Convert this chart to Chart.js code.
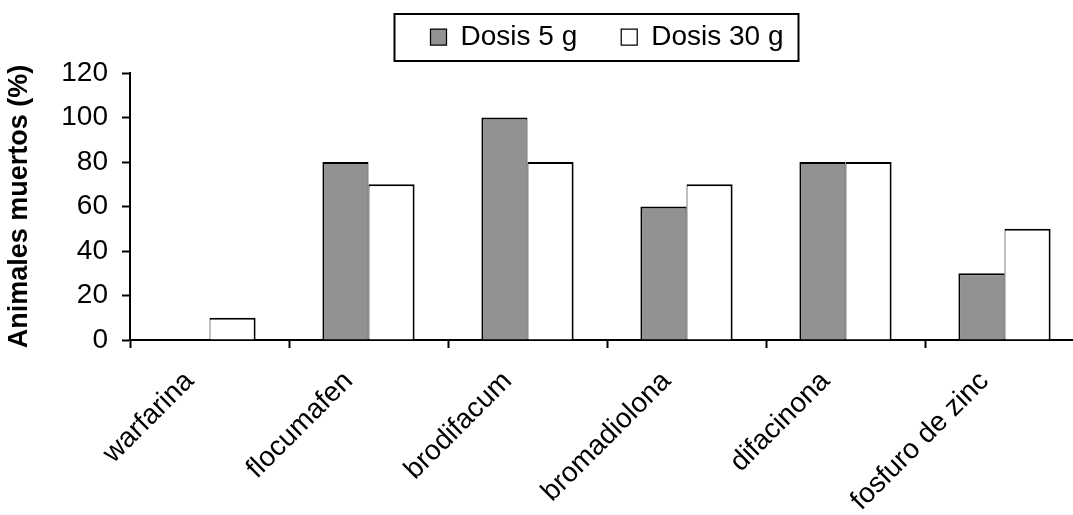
<!DOCTYPE html>
<html>
<head>
<meta charset="utf-8">
<script src="https://cdn.jsdelivr.net/npm/chart.js@4.4.0/dist/chart.umd.min.js"></script>
<style>
  body { margin: 0; background: #fff; overflow: hidden; }
</style>
</head>
<body>
<canvas id="myChart" width="1090" height="515"></canvas>
<script>
const labels = ['warfarina', 'flocumafen', 'brodifacum', 'bromadiolona', 'difacinona', 'fosfuro de zinc'];
const dose5 = [0, 80, 100, 60, 80, 30];
const dose30 = [10, 70, 80, 70, 80, 50];
const yTicks = [0, 20, 40, 60, 80, 100, 120];

Chart.defaults.font.family = "'Liberation Sans', Arial, sans-serif";
Chart.defaults.color = '#000';

// frame round the legend, like the excel one
const legendFrame = {
  id: 'legendFrame',
  afterDraw(chart) {
    const boxes = chart.legend.legendHitBoxes;
    if (!boxes || !boxes.length) return;
    const first = boxes[0];
    const last = boxes[boxes.length - 1];
    const left = first.left - 36;
    const right = last.left + last.width + 15;
    const c = chart.ctx;
    c.save();
    c.strokeStyle = '#000';
    c.lineWidth = 2;
    c.strokeRect(left, first.top - 9, right - left, first.height + 19);
    c.restore();
  }
};

const ctx = document.getElementById('myChart');
const myChart = new Chart(ctx, {
  type: 'bar',
  data: {
    labels: labels,
    datasets: [{
      label: 'Dosis 5 g',
      data: dose5,
      backgroundColor: '#929292',
      borderColor: '#000',
      borderWidth: { top: 2, left: 2, right: 1, bottom: 0 },
      borderSkipped: false
    }, {
      label: 'Dosis 30 g',
      data: dose30,
      backgroundColor: '#fff',
      borderColor: '#000',
      borderWidth: { top: 2, left: 1, right: 2, bottom: 0 },
      borderSkipped: false
    }]
  },
  options: {
    responsive: false,
    animation: false,
    datasets: {
      bar: { barPercentage: 1, categoryPercentage: 0.58 }
    },
    layout: { padding: { top: -21, left: 0, right: 6, bottom: 0 } },
    plugins: {
      legend: {
        position: 'top',
        fullSize: false,
        weight: 1000,
        labels: {
          boxWidth: 16,
          boxHeight: 16,
          padding: 44,
          font: { size: 28 },
          color: '#000'
        }
      },
      // empty title used as a spacer under the legend
      title: {
        display: true,
        text: '',
        weight: 500,
        padding: 0,
        font: { size: 12, lineHeight: 1 }
      },
      tooltip: { enabled: false }
    },
    scales: {
      x: {
        grid: { drawOnChartArea: false, drawTicks: true, tickLength: 8, tickWidth: 2, tickColor: '#000', offset: true },
        border: { display: true, color: '#000', width: 2 },
        ticks: { autoSkip: false, minRotation: 45, maxRotation: 45, padding: 17, labelOffset: -20, font: { size: 28 }, color: '#000' },
        afterFit(scale) { scale.height = 175; }
      },
      y: {
        min: yTicks[0],
        max: yTicks[yTicks.length - 1],
        grid: { drawOnChartArea: false, drawTicks: true, tickLength: 8, tickWidth: 2, tickColor: '#000' },
        border: { display: true, color: '#000', width: 2 },
        ticks: { stepSize: yTicks[1] - yTicks[0], padding: 14, font: { size: 28 }, color: '#000' },
        title: {
          display: true,
          text: 'Animales muertos (%)',
          font: { size: 27, weight: 'bold' },
          color: '#000',
          padding: { top: 3, bottom: 0 }
        },
        afterFit(scale) { scale.width = 130; }
      }
    }
  },
  plugins: [legendFrame]
});
</script>
</body>
</html>
